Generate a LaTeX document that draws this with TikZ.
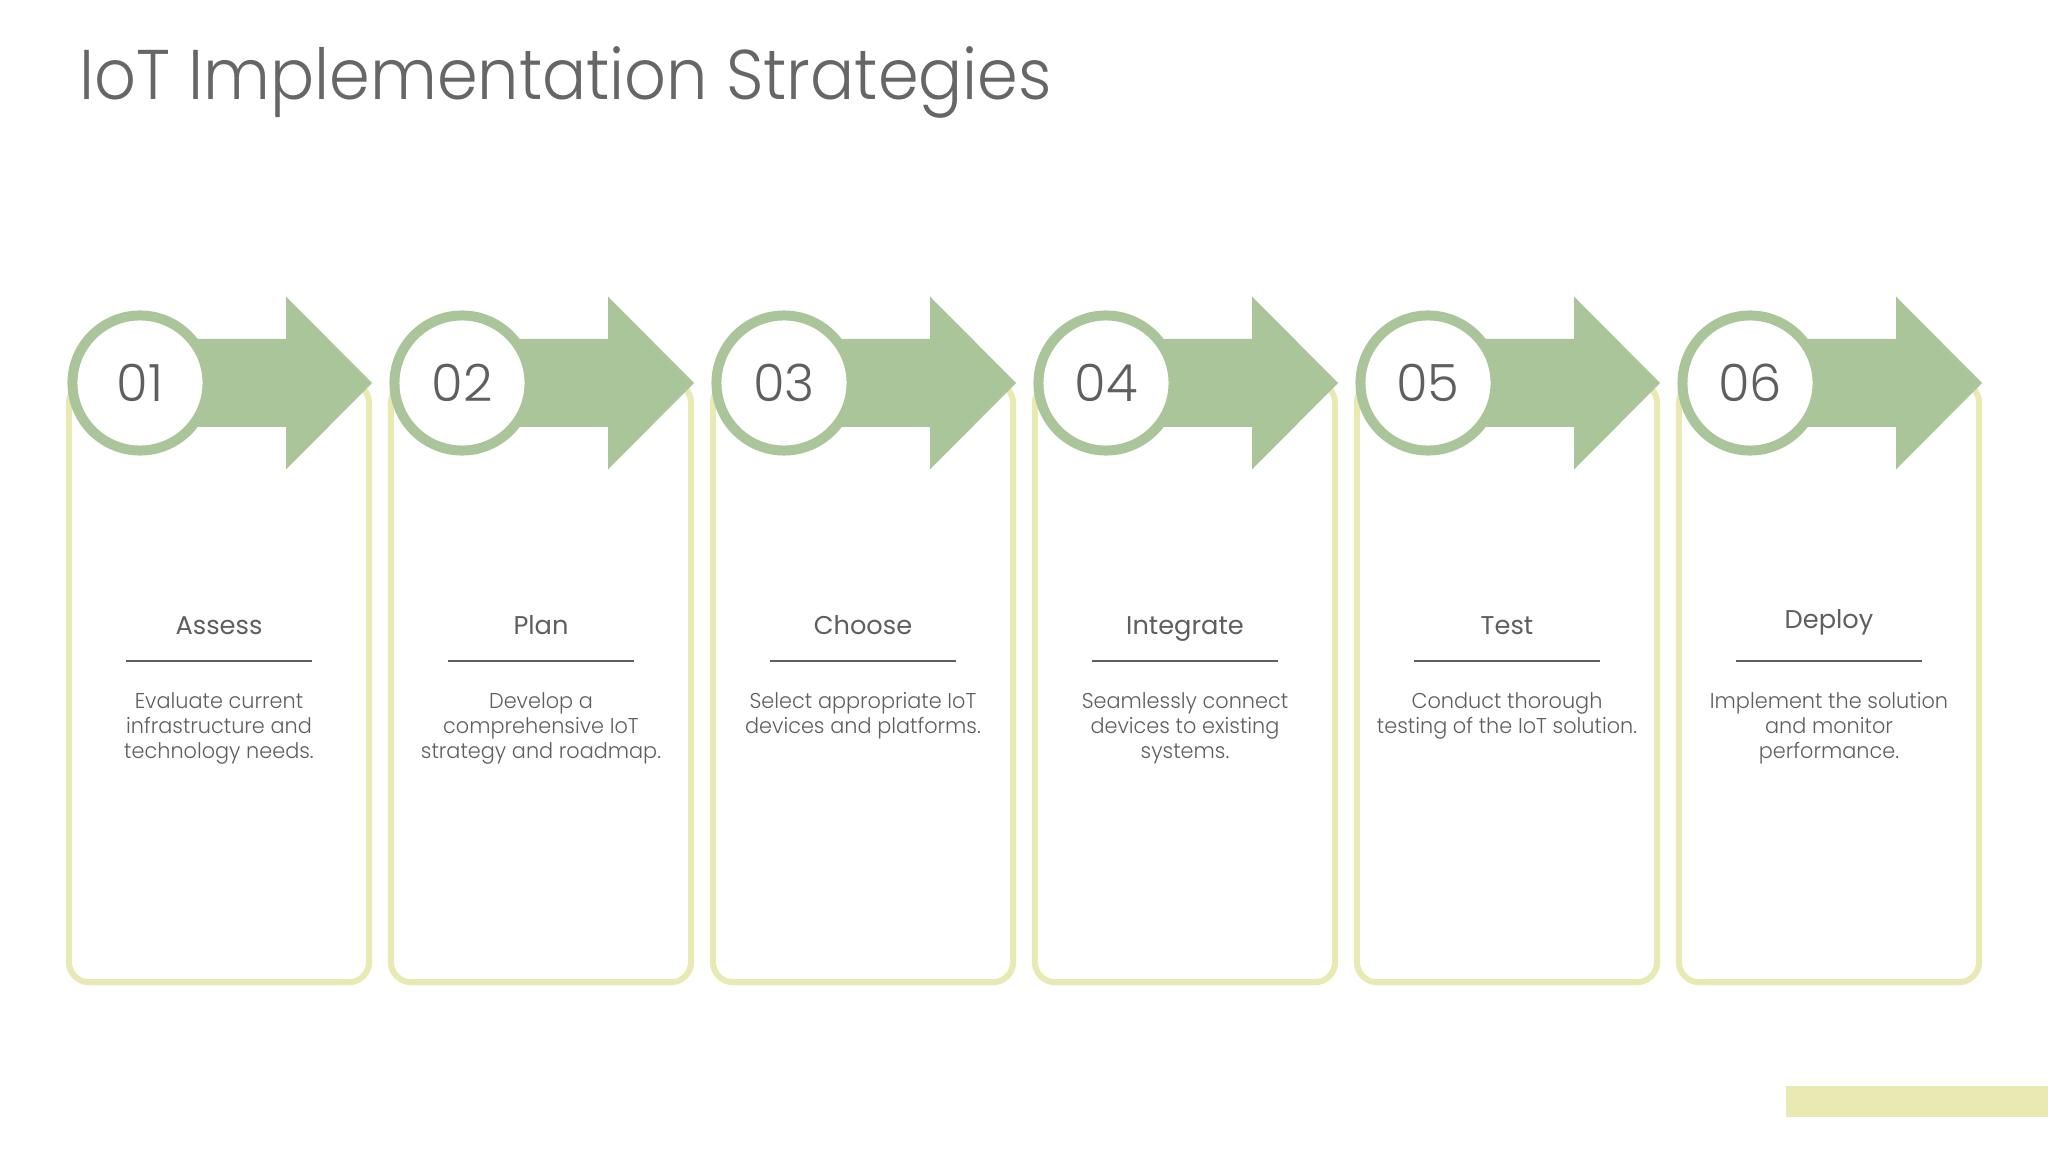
\documentclass[tikz,border=0pt]{standalone}
\usepackage{fontspec}
\setmainfont{Poppins}
\newfontfamily\poplight{Poppins Light}
\newfontfamily\titlefont{Poppins Light}[FakeStretch=0.93]
\newfontfamily\descfont{Poppins Light}[FakeStretch=0.97]
\usetikzlibrary{positioning,calc}
\definecolor{stepgreen}{RGB}{171,197,155}
\definecolor{cardline}{RGB}{233,233,180}
\definecolor{textgray}{RGB}{95,95,95}
\definecolor{titlegray}{RGB}{102,102,102}
\newcommand{\steparrow}[1]{
    \fill [stepgreen] ($(#1)+(0,-44)$) -- ++(146,0) -- ++(0,-42.5) -- ++(86,86.5)
        -- ++(-86,86.5) -- ++(0,-42.5) -- ++(-146,0) -- cycle;
}
\tikzstyle{card} = [draw=cardline, line width=0.06cm, rounded corners=0.2cm, fill=white, minimum width=3cm, minimum height=5.99cm, inner sep=0pt]
\tikzstyle{numcircle} = [circle, draw=stepgreen, line width=0.1cm, fill=white, minimum size=1.35cm, inner sep=0pt, text=textgray, font={\poplight\fontsize{14.6}{17}\selectfont}]
\tikzstyle{heading} = [anchor=base, inner sep=0pt, text=textgray, font={\fontsize{7.3}{9}\selectfont}]
\tikzstyle{desc} = [anchor=north, align=center, inner sep=0pt, text=textgray, font={\descfont\fontsize{6.1}{7.11}\selectfont}]
\tikzstyle{rule} = [draw=textgray, line width=0.02cm]

\begin{document}
\begin{tikzpicture}[x=0.01cm, y=-0.01cm]
        \useasboundingbox (0,0) rectangle (2048,1152);
        \node [anchor=base west, inner sep=0pt, text=titlegray, font={\titlefont\fontsize{20}{24}\selectfont}] (title) at (79,100) {IoT Implementation Strategies};

        % step 01
        \node [card] (card1) at (219,682.5) {};
        \coordinate (c1) at (140,383);
        \steparrow{c1}
        \node [numcircle] (num1) at (c1) {\raisebox{-0.7pt}{01}};
        \node [heading] (head1) at (219,634) {Assess};
        \draw [rule] ($(card1.north)+(-93,281)$) -- ++(186,0);
        \node [desc] (desc1) at (219,692) {Evaluate current\\infrastructure and\\technology needs.};

        % step 02
        \node [card] (card2) at (541,682.5) {};
        \coordinate (c2) at (462,383);
        \steparrow{c2}
        \node [numcircle] (num2) at (c2) {\raisebox{-0.7pt}{02}};
        \node [heading] (head2) at (541,634) {Plan};
        \draw [rule] ($(card2.north)+(-93,281)$) -- ++(186,0);
        \node [desc] (desc2) at (541,692) {Develop a\\comprehensive IoT\\strategy and roadmap.};

        % step 03
        \node [card] (card3) at (863,682.5) {};
        \coordinate (c3) at (784,383);
        \steparrow{c3}
        \node [numcircle] (num3) at (c3) {\raisebox{-0.7pt}{03}};
        \node [heading] (head3) at (863,634) {Choose};
        \draw [rule] ($(card3.north)+(-93,281)$) -- ++(186,0);
        \node [desc] (desc3) at (863,692) {Select appropriate IoT\\devices and platforms.};

        % step 04
        \node [card] (card4) at (1185,682.5) {};
        \coordinate (c4) at (1106,383);
        \steparrow{c4}
        \node [numcircle] (num4) at (c4) {\raisebox{-0.7pt}{04}};
        \node [heading] (head4) at (1185,634) {Integrate};
        \draw [rule] ($(card4.north)+(-93,281)$) -- ++(186,0);
        \node [desc] (desc4) at (1185,692) {Seamlessly connect\\devices to existing\\systems.};

        % step 05
        \node [card] (card5) at (1507,682.5) {};
        \coordinate (c5) at (1428,383);
        \steparrow{c5}
        \node [numcircle] (num5) at (c5) {\raisebox{-0.7pt}{05}};
        \node [heading] (head5) at (1507,634) {Test};
        \draw [rule] ($(card5.north)+(-93,281)$) -- ++(186,0);
        \node [desc] (desc5) at (1507,692) {Conduct thorough\\testing of the IoT solution.};

        % step 06
        \node [card] (card6) at (1829,682.5) {};
        \coordinate (c6) at (1750,383);
        \steparrow{c6}
        \node [numcircle] (num6) at (c6) {\raisebox{-0.7pt}{06}};
        \node [heading] (head6) at (1829,629) {Deploy};
        \draw [rule] ($(card6.north)+(-93,281)$) -- ++(186,0);
        \node [desc] (desc6) at (1829,692) {Implement the solution\\and monitor\\performance.};

        % corner bar
        \fill [cardline] (1786,1086) rectangle (2048,1117);
    \end{tikzpicture}
\end{document}
